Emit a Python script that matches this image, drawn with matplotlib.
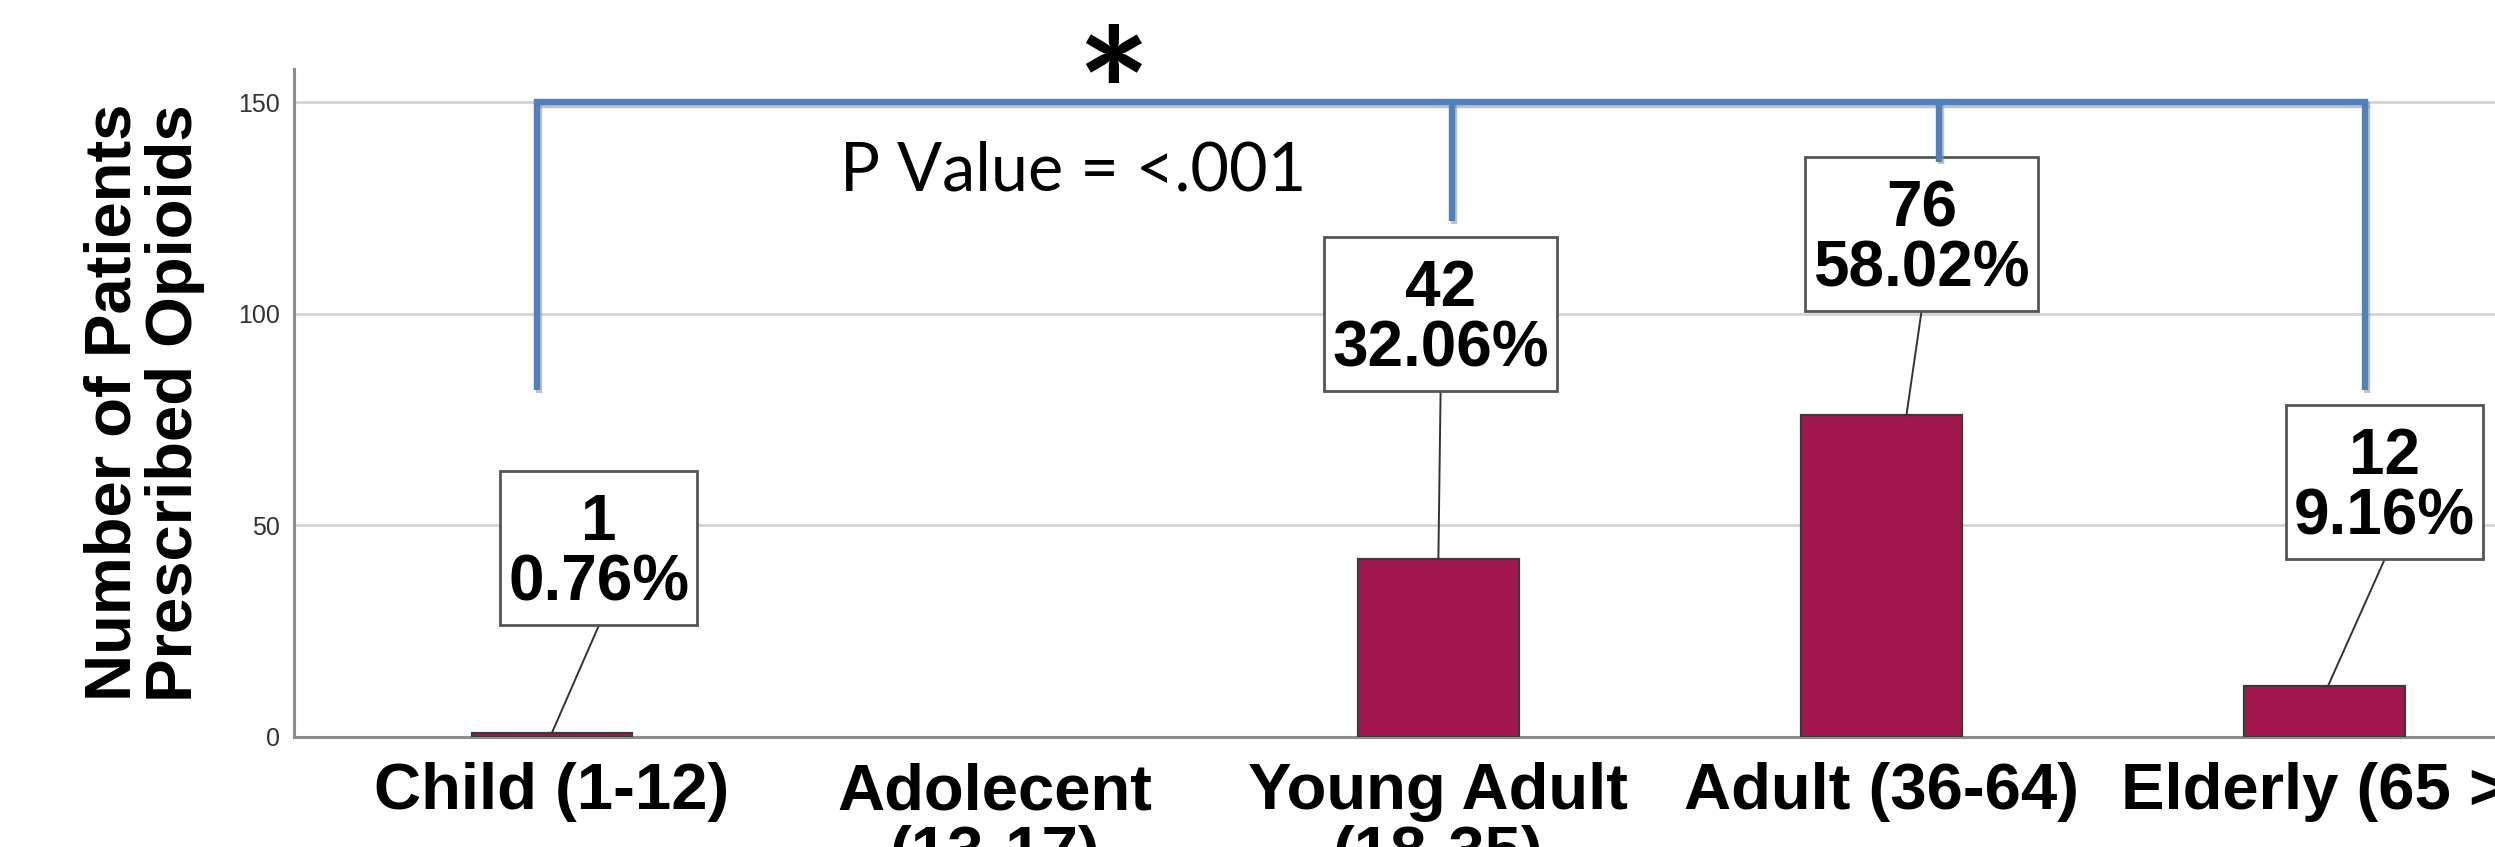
import matplotlib
matplotlib.use("Agg")
import matplotlib.pyplot as plt
import matplotlib.patheffects as pe
from matplotlib.patches import Rectangle

# age groups and opioid prescriptions
categories = ["Child (1-12)", "Adolecent\n(13-17)", "Young Adult\n(18-35)",
              "Adult (36-64)", "Elderly (65 >)"]
counts = [1, 0, 42, 76, 12]
percents = [0.76, 0.0, 32.06, 58.02, 9.16]
yticks = [0, 50, 100, 150]
p_text = "P Value = <.001"

# label box centres and where each leader line meets its bar
box_x = [0.106, None, 2.005, 3.09, 4.135]
box_y = [44.6, None, 99.9, 118.8, 60.2]
leader_dx = [0.0, None, 0.0, 0.056, 0.007]

# significance bracket
bracket_level = 150
bracket_x = [-0.034, 2.03, 3.13, 4.09]
bracket_end = [82, 122, 136, 82]

BAR = "#A2184E"
BLUE = "#4F81BD"
ARIAL = ["Liberation Sans", "DejaVu Sans"]
CALIBRI = ["Lato", "DejaVu Sans"]

W, H = 2495, 847
fig = plt.figure(figsize=(W / 100, H / 100), dpi=100)
ax = fig.add_axes([294 / W, 1 - 737 / H, (W - 294) / W, (737 - 68.6) / H])

x = list(range(len(categories)))
ax.bar([i for i in x if counts[i] > 0], [c for c in counts if c > 0],
       width=0.363, color=BAR, edgecolor="#3a3a3a", linewidth=1.6, zorder=3)

ax.set_xlim(-0.582, 4.384)
ax.set_ylim(0, 158)
ax.set_yticks(yticks)
ax.set_yticklabels([str(t) for t in yticks], family=ARIAL, fontsize=18, color="#333333")
ax.set_xticks(x)
ax.set_xticklabels(categories, family=ARIAL, fontsize=47, fontweight="bold",
                   linespacing=1.07, va="top")
ax.tick_params(axis="y", length=0, pad=10)
ax.tick_params(axis="x", length=0, pad=18)

ax.grid(axis="y", color="#d4d4d4", linewidth=2, zorder=0)
ax.set_axisbelow(True)
for side in ["top", "right"]:
    ax.spines[side].set_visible(False)
for side in ["left", "bottom"]:
    ax.spines[side].set_color("#8c8c8c")
    ax.spines[side].set_linewidth(2.2)

ax.set_ylabel("Number of Patients\nPrescribed Opioids", family=ARIAL, fontsize=47,
              fontweight="bold", linespacing=1.02, va="center")
ax.yaxis.set_label_coords(-0.068, 0.50)

# value labels; boxes are sized around the rendered text
pad_x, pad_top, pad_bot = 8, 22, 12
px_per_unit = (737 - 68.6) / 158
labels = []
for i in x:
    if counts[i] == 0:
        continue
    ty = box_y[i] - (pad_top - pad_bot) / 2 / px_per_unit
    t = ax.text(box_x[i], ty, f"{counts[i]}\n{percents[i]:.2f}%",
                ha="center", va="center", family=ARIAL, fontsize=46,
                fontweight="bold", linespacing=1.0, zorder=6)
    labels.append((i, t))

fig.canvas.draw()
renderer = fig.canvas.get_renderer()
inv = ax.transData.inverted()
for i, t in labels:
    bb = t.get_window_extent(renderer)
    (x0, y0), (x1, y1) = inv.transform([(bb.x0 - pad_x, bb.y0 - pad_bot),
                                        (bb.x1 + pad_x, bb.y1 + pad_top)])
    ax.add_patch(Rectangle((x0, y0), x1 - x0, y1 - y0, fc="white", ec="#555555",
                           lw=2, zorder=5))
    ax.plot([(x0 + x1) / 2, i + leader_dx[i]], [y0, counts[i]], color="#333333",
            lw=1.4, zorder=4)

# bracket linking the groups
shadow = [pe.SimpleLineShadow(offset=(1.5, -2), shadow_color="#9a9a9a", alpha=0.6),
          pe.Normal()]
ax.plot([bracket_x[0], bracket_x[-1]], [bracket_level, bracket_level], color=BLUE,
        lw=4.6, solid_capstyle="projecting", zorder=6, clip_on=False, path_effects=shadow)
for bx, by in zip(bracket_x, bracket_end):
    ax.plot([bx, bx], [bracket_level, by], color=BLUE, lw=4.6,
            solid_capstyle="butt", zorder=6, clip_on=False, path_effects=shadow)

ax.text(0.65, 129.2, p_text, family=CALIBRI, fontsize=48, ha="left",
        va="baseline", zorder=7)
ax.text(1.266, 149.3, "*", family=CALIBRI, fontsize=125, fontweight="bold",
        ha="center", va="center", clip_on=False, zorder=7)

fig.savefig("out.png", dpi=100, facecolor="white")
